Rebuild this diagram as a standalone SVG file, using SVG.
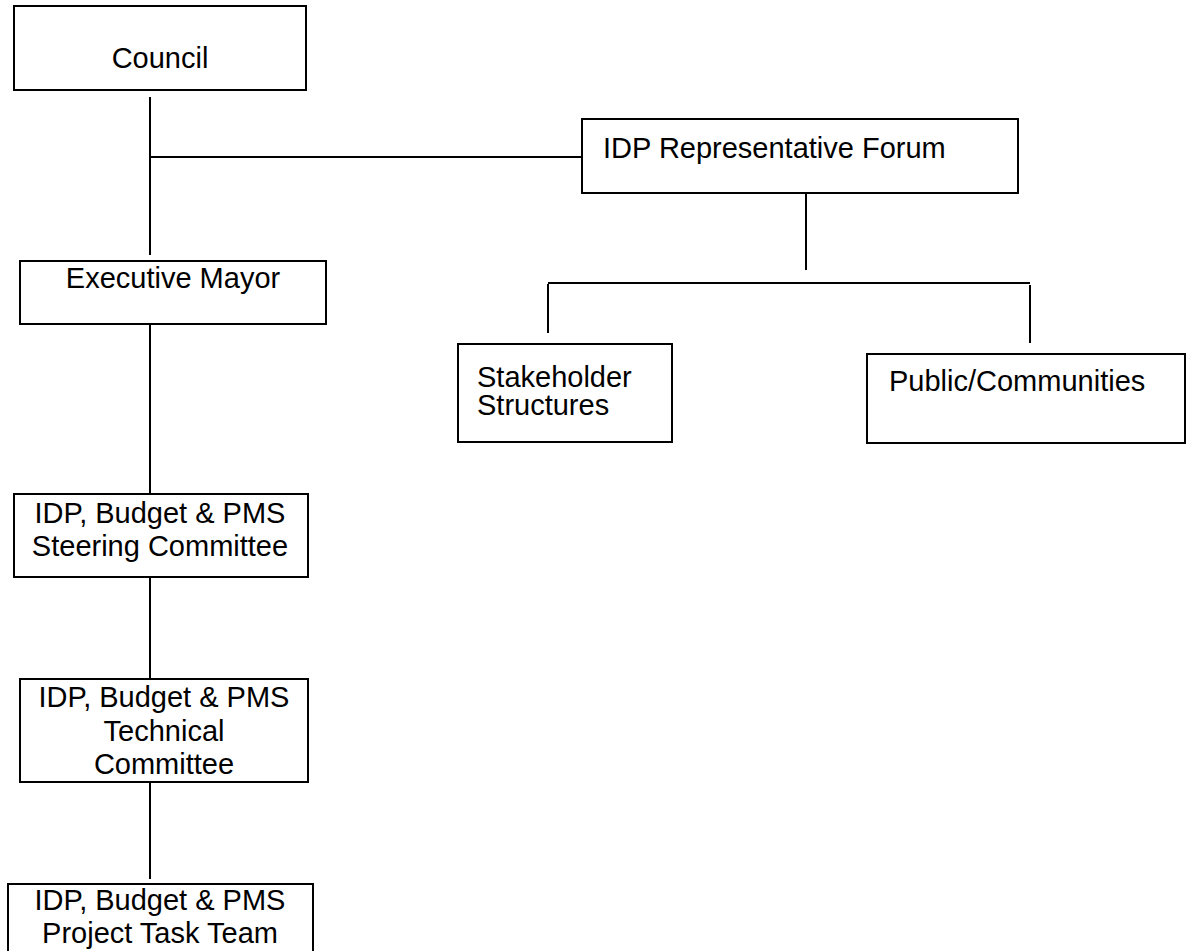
<svg xmlns="http://www.w3.org/2000/svg" width="1191" height="951" viewBox="0 0 1191 951">
<style>
.box{fill:#fff;stroke:#000;stroke-width:2}
.t{font-family:"Liberation Sans",Arial,sans-serif;font-size:29px;fill:#000}
.c{text-anchor:middle}
.ln{stroke:#000;stroke-width:2;fill:none}
</style>
<rect width="1191" height="951" fill="#fff"/>
<g id="connectors">
<line class="ln" x1="150" y1="97" x2="150" y2="255"/>
<line class="ln" x1="150" y1="157" x2="582" y2="157"/>
<line class="ln" x1="150" y1="325" x2="150" y2="494"/>
<line class="ln" x1="150" y1="578" x2="150" y2="678"/>
<line class="ln" x1="150" y1="783" x2="150" y2="879"/>
<line class="ln" x1="806" y1="193" x2="806" y2="270"/>
<line class="ln" x1="548" y1="283" x2="1030" y2="283"/>
<line class="ln" x1="548" y1="284" x2="548" y2="333"/>
<line class="ln" x1="1030" y1="285" x2="1030" y2="343"/>
</g>
<g id="council">
<rect class="box" x="14" y="6" width="292" height="84"/>
<text class="t c" x="160" y="68">Council</text>
</g>
<g id="executive-mayor">
<rect class="box" x="20" y="261" width="306" height="63"/>
<text class="t c" x="173" y="288">Executive Mayor</text>
</g>
<g id="steering-committee">
<rect class="box" x="14" y="494" width="294" height="83"/>
<text class="t c" x="160" y="522.5">IDP, Budget &amp; PMS</text>
<text class="t c" x="160" y="555.5">Steering Committee</text>
</g>
<g id="technical-committee">
<rect class="box" x="20" y="679" width="288" height="103"/>
<text class="t c" x="164" y="707">IDP, Budget &amp; PMS</text>
<text class="t c" x="164" y="741">Technical</text>
<text class="t c" x="164" y="774">Committee</text>
</g>
<g id="project-task-team">
<rect class="box" x="8" y="884" width="305" height="80"/>
<text class="t c" x="160" y="910">IDP, Budget &amp; PMS</text>
<text class="t c" x="160" y="943">Project Task Team</text>
</g>
<g id="idp-forum">
<rect class="box" x="582" y="119" width="436" height="74"/>
<text class="t" x="603" y="158">IDP Representative Forum</text>
</g>
<g id="stakeholder-structures">
<rect class="box" x="458" y="344" width="214" height="98"/>
<text class="t" x="477" y="387">Stakeholder</text>
<text class="t" x="477" y="415">Structures</text>
</g>
<g id="public-communities">
<rect class="box" x="867" y="354" width="318" height="89"/>
<text class="t" x="889" y="391">Public/Communities</text>
</g>
</svg>
